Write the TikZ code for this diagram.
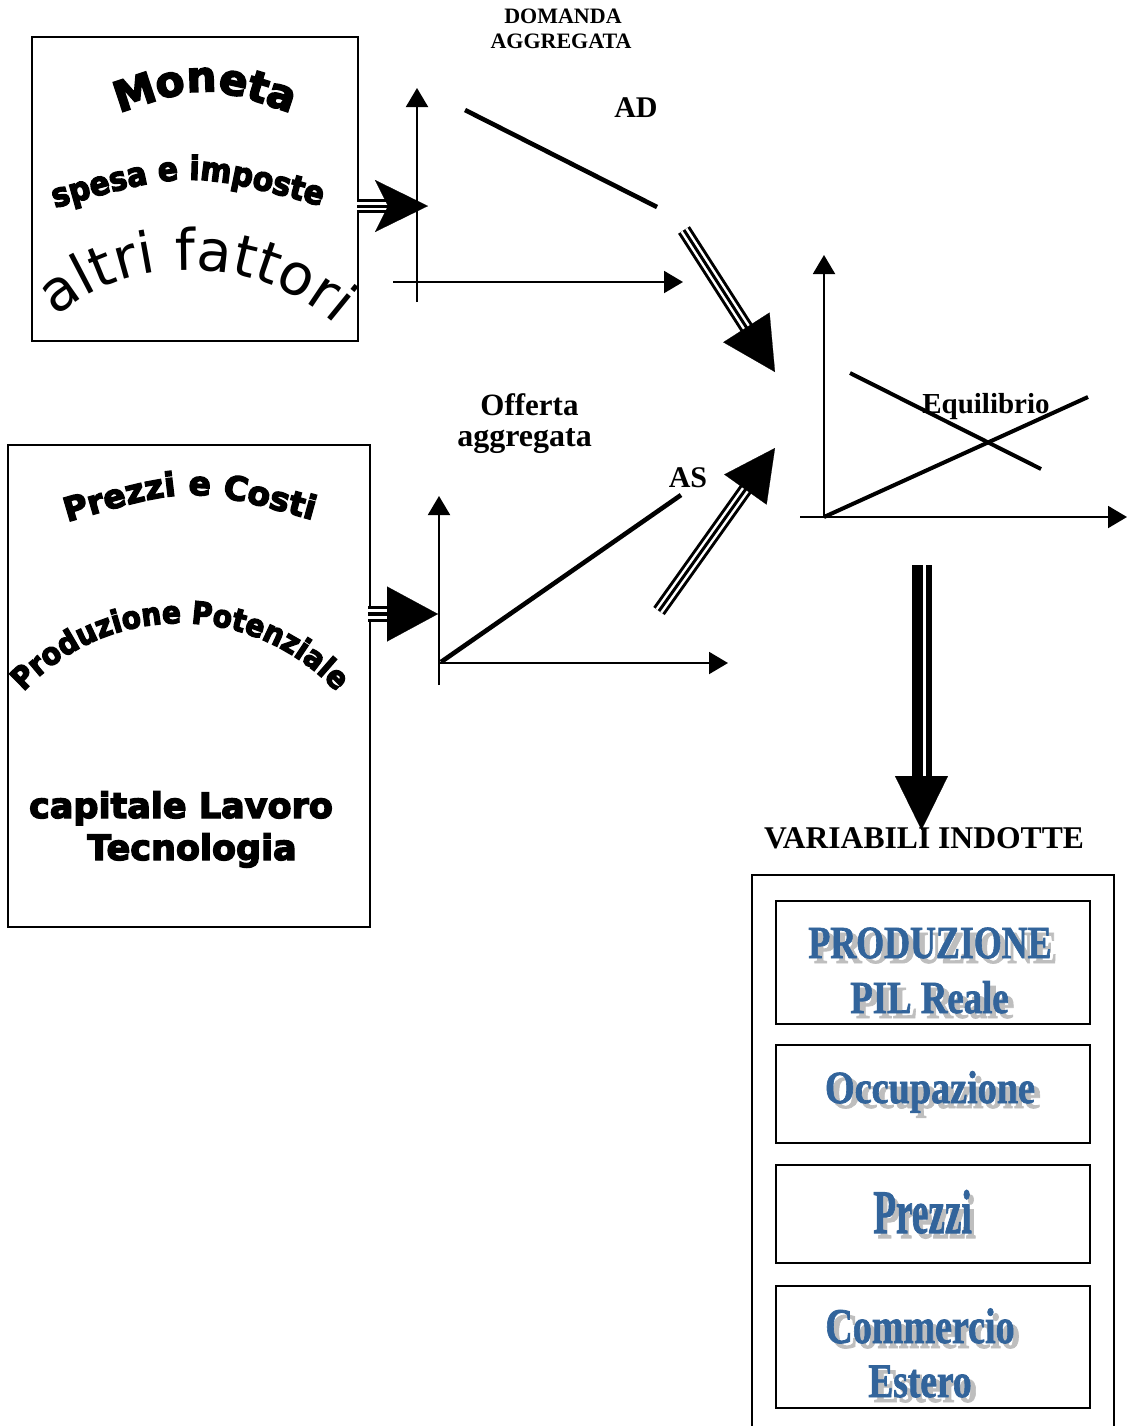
\documentclass[tikz,border=0pt]{standalone}
\usepackage{fontspec}
\usepackage{graphicx}
\setmainfont{Liberation Serif}
\newfontfamily\heavyfont{DejaVu Sans}[BoldFeatures={FakeBold=4}]
\newfontfamily\heavynarrow{DejaVu Sans}[BoldFeatures={FakeBold=4,FakeStretch=0.9}]
\newfontfamily\plainsans{DejaVu Sans}
\newfontfamily\posterfont{Liberation Serif}[BoldFeatures={FakeBold=1.6}]
\usetikzlibrary{arrows.meta,calc,decorations.text}
\definecolor{varblue}{RGB}{50,100,155}
\definecolor{shadowgray}{RGB}{190,190,190}
\tikzset{
  frame/.style={draw, line width=1pt, inner sep=0pt},
  axis/.style={line width=1pt, -{Triangle[length=9.5pt,width=11pt]}},
  curve/.style={line width=2.3pt},
  lbl/.style={inner sep=0pt, anchor=base},
  arctext/.style={decorate, decoration={text along path, text align=center, text={#1}}},
}
\newcommand\tshaft[6]{%
  \draw[line width=#4, shorten >=#3] (#1) -- (#2);
  \draw[white, line width=#5, shorten >=#3] (#1) -- (#2);
  \draw[line width=#6, shorten >=#3] (#1) -- (#2);}
\newcommand\shadowlbl[5]{%
  \node[lbl, text=varblue, font=\posterfont\bfseries\fontsize{#3}{#3}\selectfont] (#1) at (#2)
    {\scalebox{#4}[1]{\rlap{\kern3.5pt\raisebox{-2.5pt}{\color{shadowgray}#5}}#5}};}
\begin{document}
\begin{tikzpicture}[x=0.5pt,y=-0.5pt]
\useasboundingbox (0,0) rectangle (1128,1426);

% ---------- boxes ----------
\node[frame, minimum width=163pt, minimum height=152pt] (b1) at (195,189) {};
\node[frame, minimum width=181pt, minimum height=241pt] (b2) at (189,686) {};
\node[frame, minimum width=181pt, minimum height=277pt] (b3) at (933,1152) {};
\node[frame, minimum width=157pt, minimum height=61.5pt] (ia) at (933,962.5) {};
\node[frame, minimum width=157pt, minimum height=49pt] (ib) at (933,1094) {};
\node[frame, minimum width=157pt, minimum height=49pt] (ic) at (933,1214) {};
\node[frame, minimum width=157pt, minimum height=61pt] (id) at (933,1347) {};

% ---------- curved texts, box 1 ----------
\path[arctext={|\heavyfont\bfseries\fontsize{21}{21}\selectfont|Moneta}]
  (116,114) .. controls (205,84) .. (294,114);
\path[arctext={|\heavynarrow\bfseries\fontsize{16.5}{17}\selectfont|spesa e imposte}]
  (48,210) .. controls (188,170) .. (328,208);
\path[arctext={|\plainsans\fontsize{28.5}{29}\selectfont|altri fattori}]
  (46,326) .. controls (128,246) and (266,254) .. (346,334);

% ---------- curved texts, box 2 ----------
\path[arctext={|\heavyfont\bfseries\fontsize{16.5}{17}\selectfont|Prezzi e Costi}]
  (64,523) .. controls (190,486) .. (316,521);
\path[arctext={|\heavynarrow\bfseries\fontsize{15.5}{16}\selectfont|Produzione Potenziale}]
  (20,696) .. controls (105,599) and (255,599) .. (340,696);
\node[lbl, font=\heavyfont\bfseries\fontsize{17.5}{18}\selectfont] (cap) at (181,818) {capitale Lavoro};
\node[lbl, font=\heavyfont\bfseries\fontsize{17.5}{18}\selectfont] (tec) at (192,860) {Tecnologia};

% ---------- graph 1 (AD) ----------
\coordinate (g1b) at (417,302); \coordinate (g1y) at (417,88);
\coordinate (g1l) at (393,282); \coordinate (g1x) at (683,282);
\draw[axis] (g1b) -- (g1y);
\draw[axis] (g1l) -- (g1x);
\coordinate (ad1) at (465,110); \coordinate (ad2) at (657,207);
\draw[curve] (ad1) -- (ad2);
\node[lbl, font=\bfseries\fontsize{11}{12}\selectfont] (dom1) at (563,23) {DOMANDA};
\node[lbl, font=\bfseries\fontsize{11}{12}\selectfont] (dom2) at (561,48) {AGGREGATA};
\node[lbl, font=\bfseries\fontsize{15}{16}\selectfont] (adl) at (636,117) {AD};

% ---------- graph 2 (AS) ----------
\coordinate (g2b) at (439,685); \coordinate (g2y) at (439,496);
\coordinate (g2o) at (439,663); \coordinate (g2x) at (728,663);
\draw[axis] (g2b) -- (g2y);
\draw[axis] (g2o) -- (g2x);
\coordinate (as1) at (441,662); \coordinate (as2) at (681,495);
\draw[curve] (as1) -- (as2);
\node[lbl, font=\bfseries\fontsize{15.5}{16}\selectfont] (off1) at (529.5,415) {Offerta};
\node[lbl, font=\bfseries\fontsize{16}{16}\selectfont] (off2) at (524.5,446) {aggregata};
\node[lbl, font=\bfseries\fontsize{15}{16}\selectfont] (asl) at (688,487) {AS};

% ---------- graph 3 (equilibrium) ----------
\coordinate (g3b) at (824,517); \coordinate (g3y) at (824,255);
\coordinate (g3l) at (800,517); \coordinate (g3x) at (1127,517);
\draw[axis] (g3b) -- (g3y);
\draw[axis] (g3l) -- (g3x);
\coordinate (e1a) at (850,373); \coordinate (e1b) at (1041,469);
\coordinate (e2a) at (824,517); \coordinate (e2b) at (1088,397);
\draw[line width=2pt] (e1a) -- (e1b);
\draw[line width=2pt] (e2a) -- (e2b);
\node[lbl, font=\bfseries\fontsize{14.5}{16}\selectfont] (eql) at (986,413) {Equilibrio};

% ---------- block arrows ----------
\coordinate (h1s) at (357,206); \coordinate (h1t) at (428,206);
\tshaft{h1s}{h1t}{18pt}{7pt}{4pt}{1.5pt}
\draw[line width=0.1pt, -{Stealth[length=26.5pt,width=26pt,inset=6.5pt]}] (h1s) -- (h1t);

\coordinate (h2s) at (368,614); \coordinate (h2t) at (438,614);
\tshaft{h2s}{h2t}{24pt}{8pt}{5pt}{2pt}
\draw[line width=0.1pt, -{Triangle[length=25.5pt,width=27.5pt]}] (h2s) -- (h2t);

\coordinate (d1s) at (684,230); \coordinate (d1t) at (775,372);
\tshaft{d1s}{d1t}{25pt}{7pt}{4pt}{1.5pt}
\draw[line width=0.1pt, -{Triangle[length=26.5pt,width=27.5pt]}] (d1s) -- (d1t);

\coordinate (d2s) at (659,611); \coordinate (d2t) at (775,448);
\tshaft{d2s}{d2t}{24pt}{7pt}{4pt}{1.5pt}
\draw[line width=0.1pt, -{Triangle[length=25.5pt,width=26pt]}] (d2s) -- (d2t);

\coordinate (vs) at (921.5,565); \coordinate (vt) at (921.5,830);
\draw[line width=10pt, shorten >=25pt] (vs) -- (vt);
\draw[white, line width=1.5pt, shorten >=25pt] ([xshift=1.5pt]vs) -- ([xshift=1.5pt]vt);
\draw[line width=0.1pt, -{Triangle[length=27pt,width=26.5pt]}] (vs) -- (vt);

% ---------- induced variables ----------
\node[lbl, font=\bfseries\fontsize{15.8}{17}\selectfont] (var) at (924,848) {VARIABILI INDOTTE};
\shadowlbl{t1}{930,958}{23}{0.78}{PRODUZIONE}
\shadowlbl{t2}{929.5,1013}{23}{0.8}{PIL Reale}
\shadowlbl{t3}{930,1103}{23}{0.83}{Occupazione}
\shadowlbl{t4}{922.5,1233}{31}{0.6}{Prezzi}
\shadowlbl{t5}{920,1343}{25}{0.76}{Commercio}
\shadowlbl{t6}{920,1397}{24}{0.78}{Estero}
\end{tikzpicture}
\end{document}
